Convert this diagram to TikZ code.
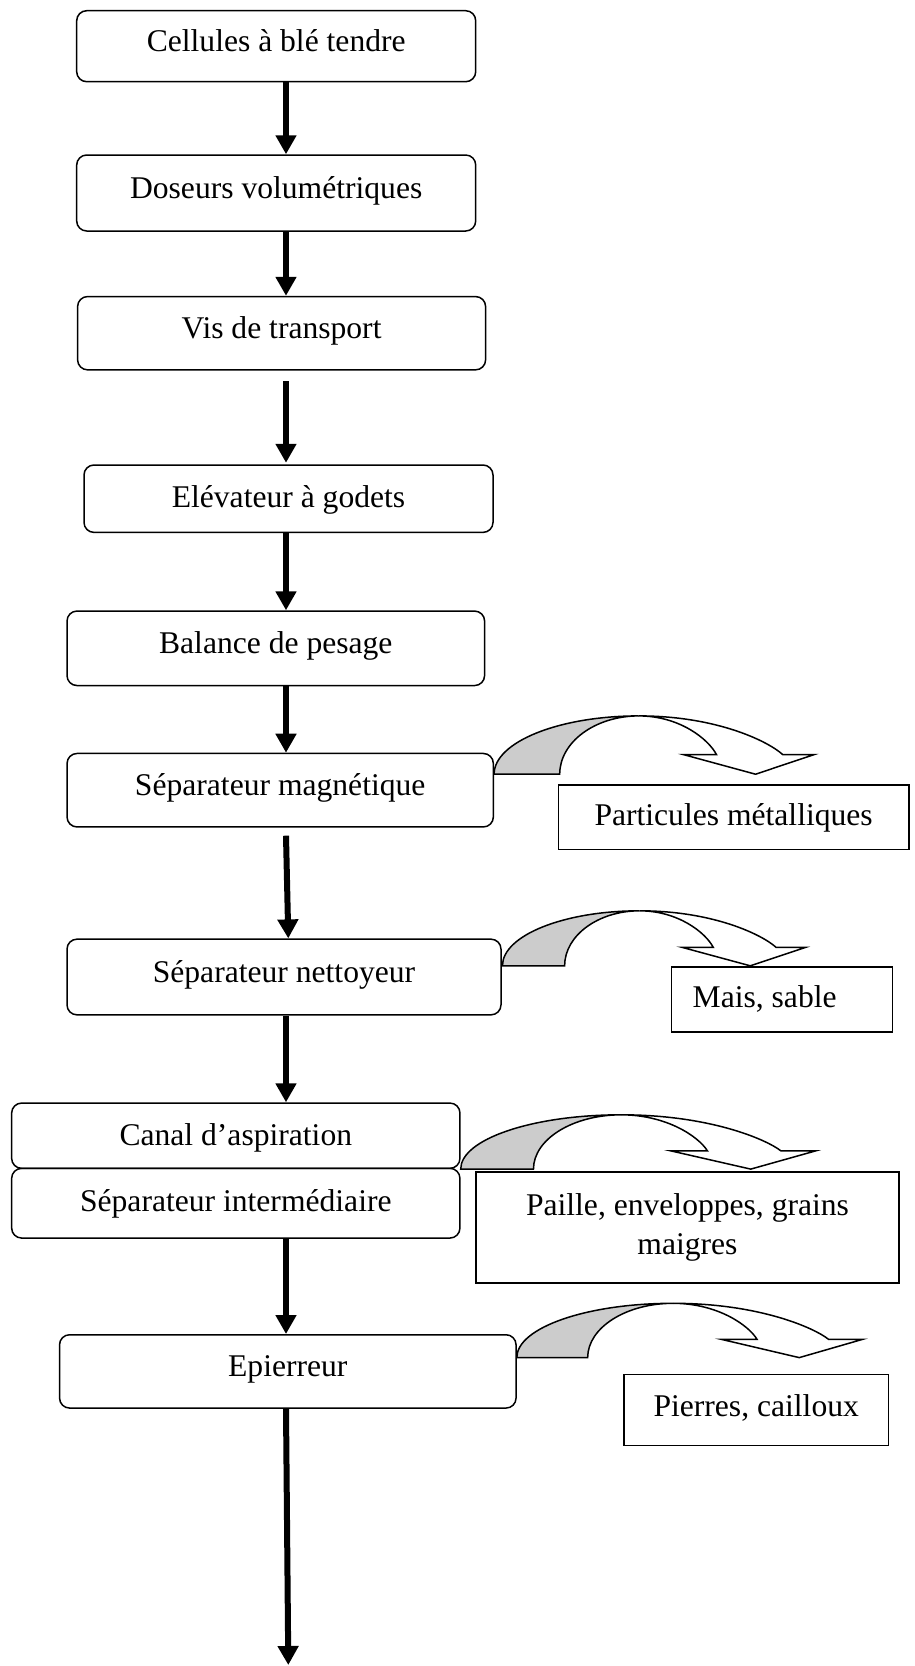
\documentclass[tikz,border=0pt]{standalone}
\usepackage{fontspec}
\setmainfont{Liberation Serif}
\usetikzlibrary{arrows.meta,calc}

% curved block arrow that sends the rejected fraction to the right
\tikzset{
  pics/rejectarrow/.style 2 args={code={
    \begin{scope}[xscale=#1, yscale=#2, line width=1.5pt, line join=miter]
      \filldraw[fill=black!20] (0,0) .. controls (0,0.552) and (0.2025,1) .. (0.452,1)
          .. controls (0.316,1) and (0.205,0.552) .. (0.205,0) -- cycle;
      \filldraw[fill=white] (0.452,1) .. controls (0.70,1) and (0.86,0.55) .. (0.902,0.336)
          -- (1,0.336) -- (0.817,0) -- (0.592,0.336) -- (0.695,0.336)
          .. controls (0.67,0.6) and (0.58,1) .. (0.452,1) -- cycle;
    \end{scope}
  }}
}

\begin{document}
\begin{tikzpicture}[x=1pt,y=1pt,
  every node/.style={font=\fontsize{31.6}{39.5}\selectfont\frenchspacing},
  stage/.style={draw, line width=1.5pt, rounded corners=10pt, inner sep=0pt,
                text height=22pt, text depth=12pt},
  waste/.style={draw, line width=1.5pt, inner sep=0pt},
  flow/.style={line width=6pt, -{Triangle[width=20pt,length=19pt]}},
]
\useasboundingbox (0,0) rectangle (915,-1666);

% main cleaning line
\node[stage, minimum width=399pt, minimum height=71pt] (b1) at (276.2,-46.2) {Cellules à blé tendre};
\node[stage, minimum width=399pt, minimum height=76pt] (b2) at (276.2,-193) {Doseurs volumétriques};
\node[stage, minimum width=408pt, minimum height=73.3pt] (b3) at (281.6,-333.2) {Vis de transport};
\node[stage, minimum width=409pt, minimum height=67.4pt, text depth=3.5pt] (b4) at (288.5,-498.7) {Elévateur à godets};
\node[stage, minimum width=417.6pt, minimum height=74.5pt] (b5) at (275.8,-648.3) {Balance de pesage};
\node[stage, minimum width=426.3pt, minimum height=73.5pt] (b6) at (280.2,-790.2) {Séparateur magnétique};
\node[stage, minimum width=434pt, minimum height=75.7pt] (b7) at (284,-977) {Séparateur nettoyeur};
\node[stage, minimum width=448.3pt, minimum height=65.3pt, text depth=1.5pt] (b8) at (235.8,-1135.7) {Canal d’aspiration};
\node[stage, minimum width=448.3pt, minimum height=69.7pt, text depth=5.5pt] (b9) at (235.8,-1203.2) {Séparateur intermédiaire};
\node[stage, minimum width=456.5pt, minimum height=73.3pt] (b10) at (287.8,-1371.4) {Epierreur};

% rejected fractions
\node[waste, minimum width=350.7pt, minimum height=64.3pt,
      text height=22pt, text depth=6pt] (s1) at (733.6,-817.2) {Particules métalliques};
\node[waste, minimum width=221pt, minimum height=65.3pt, text width=179pt, align=flush left,
      text height=22pt, text depth=6pt] (s2) at (782.2,-999.4) {Mais, sable};
\node[waste, minimum width=423pt, minimum height=111pt, text width=400pt, align=flush center]
      (s3) at (687.5,-1227.3) {Paille, enveloppes, grains\\maigres};
\node[waste, minimum width=264.3pt, minimum height=71pt,
      text height=22pt, text depth=9pt] (s4) at (756.2,-1410) {Pierres, cailloux};

% product flow
\coordinate (ax) at (286,0);
\coordinate (bx) at (288.3,0);
\coordinate (out) at (288.3,-1665);
\draw[flow] (b1.south -| ax) -- (b2.north -| ax);
\draw[flow] (b2.south -| ax) -- (b3.north -| ax);
\draw[flow] ($(b3.south -| ax)+(0,-10.7)$) -- ($(b4.north -| ax)+(0,1.5)$);
\draw[flow] (b4.south -| ax) -- (b5.north -| ax);
\draw[flow] (b5.south -| ax) -- (b6.north -| ax);
\draw[flow] ($(b6.south -| ax)+(0,-8)$) -- (b7.north -| bx);
\draw[flow] (b7.south -| ax) -- (b8.north -| ax);
\draw[flow] (b9.south -| ax) -- (b10.north -| ax);
\draw[flow] (b10.south -| ax) -- (out);

% removal arrows
\pic at ($(b6.north east)+(0,-21.5)$) {rejectarrow={320}{58.3}};
\pic at ($(b7.north east)+(0.7,-27.4)$) {rejectarrow={303.3}{55}};
\pic at (b8.south east) {rejectarrow={355}{54.3}};
\pic at ($(b10.north east)+(0,-23.6)$) {rejectarrow={345.7}{54.3}};
\end{tikzpicture}
\end{document}
